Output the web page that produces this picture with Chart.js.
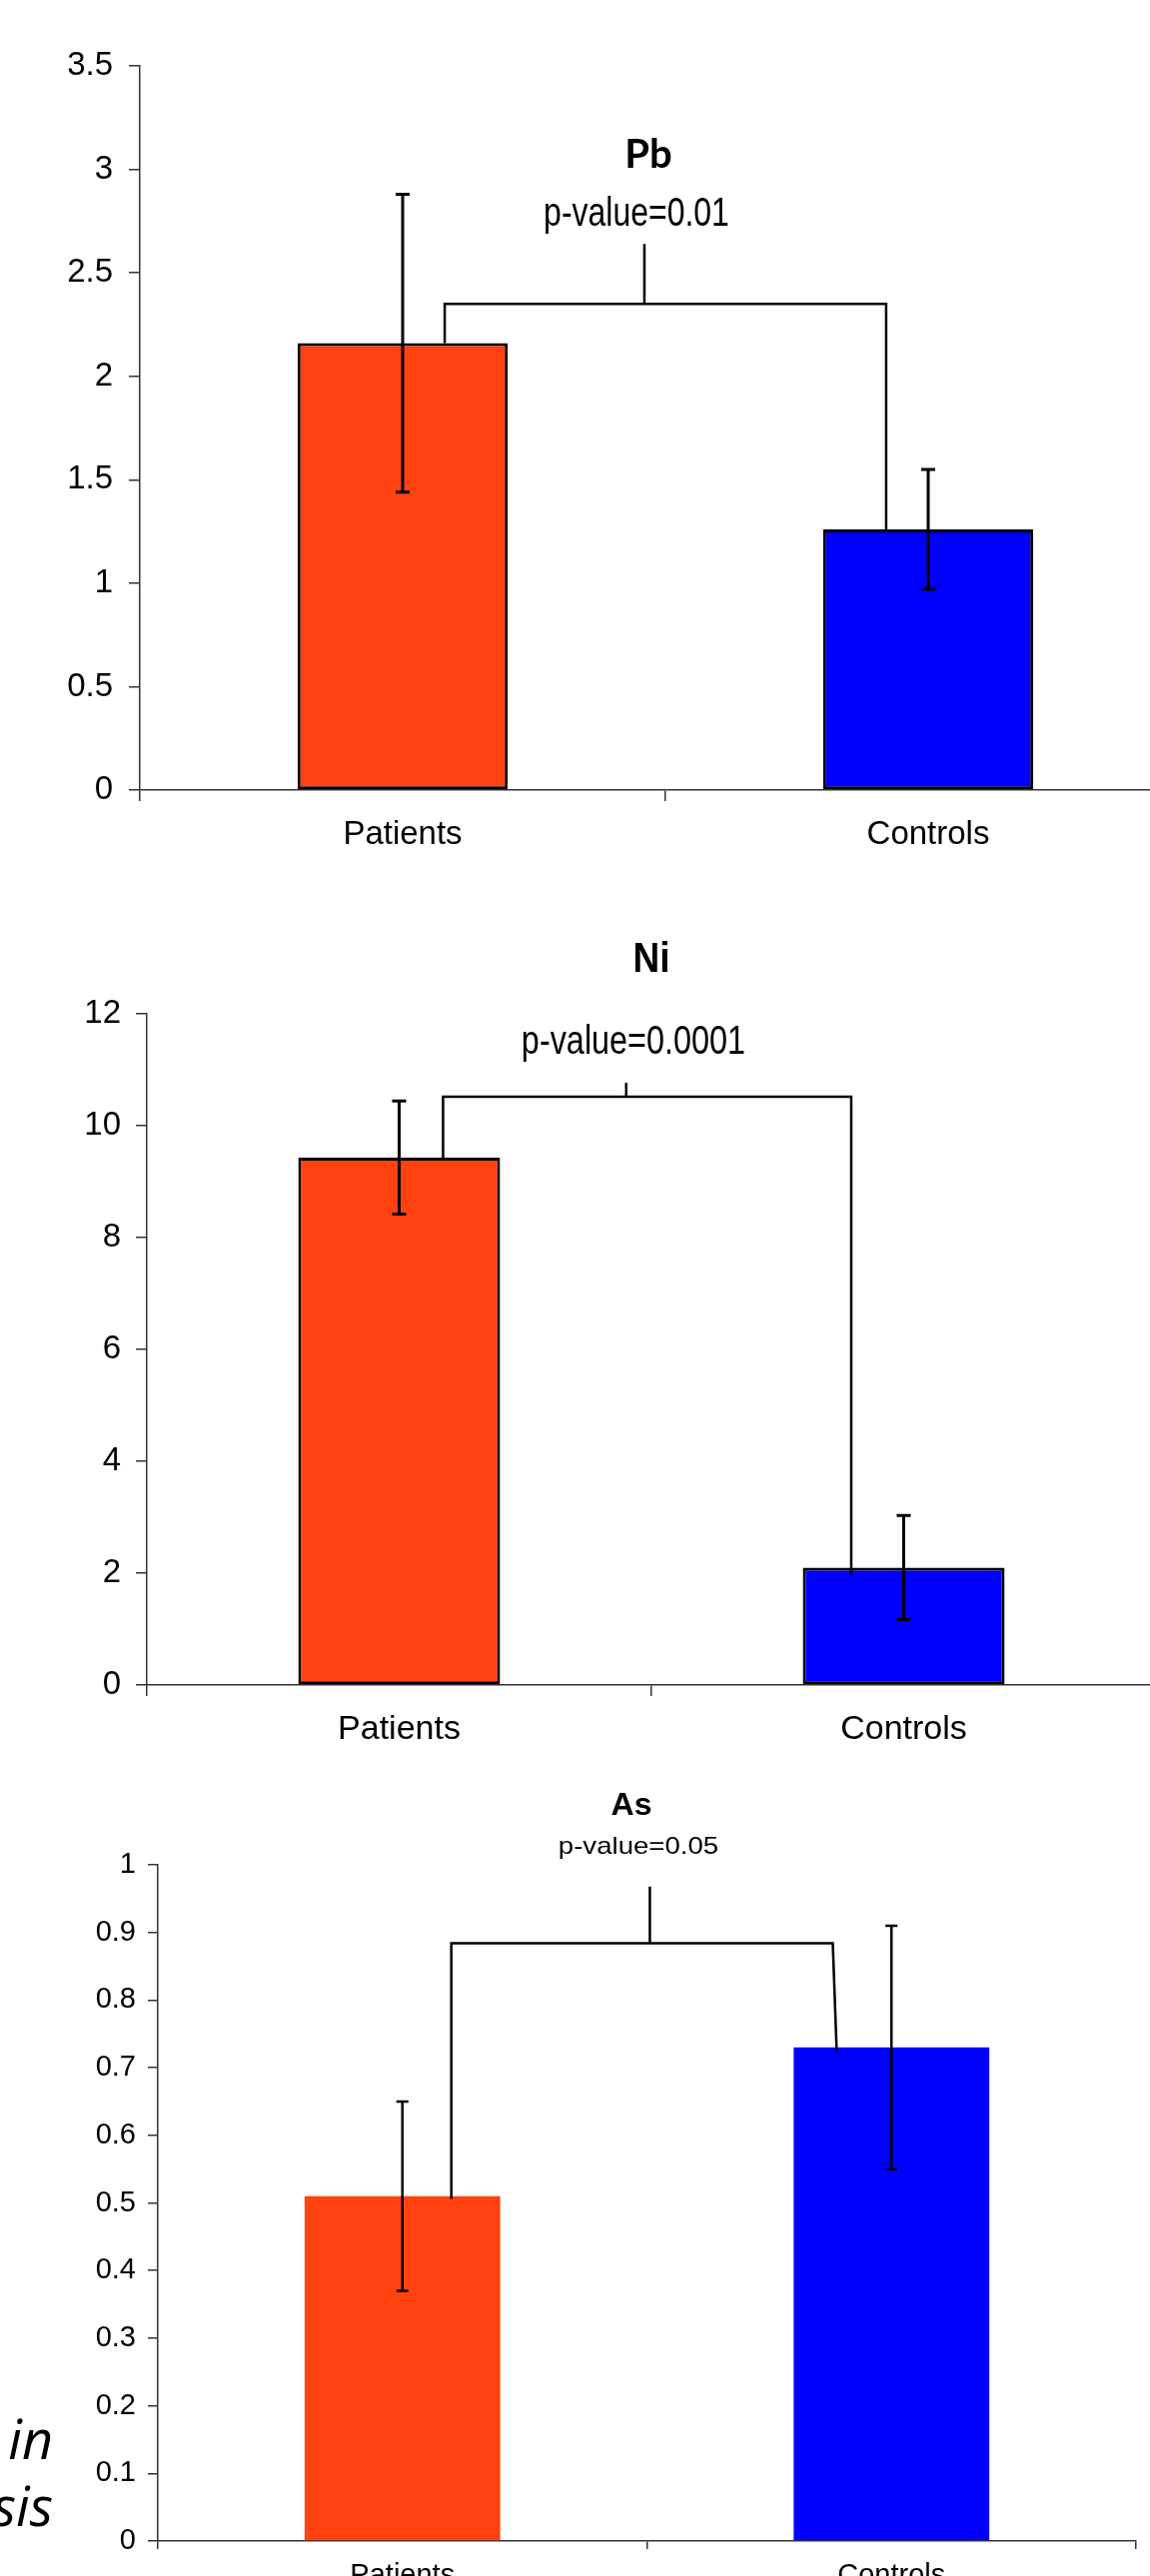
<!DOCTYPE html>
<html>
<head>
<meta charset="utf-8">
<title>Pb, Ni, As – Patients vs Controls</title>
<script src="https://cdn.jsdelivr.net/npm/chart.js@4.4.1/dist/chart.umd.min.js"></script>
<style>
  html, body { margin: 0; padding: 0; background: #fff; }
  body { position: relative; width: 1151px; height: 2579px; overflow: hidden; }
  canvas { position: absolute; left: 0; }
  #pb-chart { top: 0; }
  #ni-chart { top: 880px; }
  #as-chart { top: 1770px; }
  .side-note {
    position: absolute;
    left: -100px;
    top: 2408px;
    width: 153px;
    text-align: right;
    font: italic 54px/67px "Open Sans", "Noto Sans", sans-serif;
    color: #000;
  }
</style>
</head>
<body>
<canvas id="pb-chart" width="1200" height="880"></canvas>
<canvas id="ni-chart" width="1200" height="890"></canvas>
<canvas id="as-chart" width="1200" height="809"></canvas>
<div class="side-note">in<br>sis</div>

<script>
const CATEGORIES = ['Patients', 'Controls'];
const BAR_COLORS = ['#ff4210', '#0000ff'];

// Pb
const PB_MEANS = [2.16, 1.26];
const PB_ERRORS = [0.72, 0.29];
const PB_TICKS = [0, 0.5, 1, 1.5, 2, 2.5, 3, 3.5];
// level, stem top, left foot, right foot
const PB_BRACKET = [2.35, 2.64, 2.16, 1.25];

// Ni
const NI_MEANS = [9.43, 2.1];
const NI_ERRORS = [1.01, 0.93];
const NI_TICKS = [0, 2, 4, 6, 8, 10, 12];
const NI_BRACKET = [10.52, 10.77, 9.43, 1.96];

// As
const AS_MEANS = [0.51, 0.73];
const AS_ERRORS = [0.14, 0.18];
const AS_TICKS = [0, 0.1, 0.2, 0.3, 0.4, 0.5, 0.6, 0.7, 0.8, 0.9, 1];
const AS_BRACKET = [0.884, 0.968, 0.506, 0.724];

const TITLES = ['Pb', 'Ni', 'As'];
const P_VALUES = ['p-value=0.01', 'p-value=0.0001', 'p-value=0.05'];

const AXIS_COLOR = '#333';
const SANS = '"Liberation Sans", Arial, sans-serif';

Chart.defaults.font.family = SANS;
Chart.defaults.color = '#000';

// error bars, significance bracket and the headings, drawn on top of the bars
function overlay(cfg) {
  return {
    id: 'overlay-' + cfg.key,
    afterDatasetsDraw(chart) {
      const { ctx, scales: { x, y } } = chart;
      ctx.save();
      ctx.strokeStyle = '#000';
      ctx.fillStyle = '#000';

      ctx.lineWidth = cfg.errWidth;
      cfg.means.forEach((m, i) => {
        const px = x.getPixelForValue(i);
        const top = y.getPixelForValue(m + cfg.errors[i]);
        const bot = y.getPixelForValue(m - cfg.errors[i]);
        ctx.beginPath();
        ctx.moveTo(px, top);
        ctx.lineTo(px, bot);
        ctx.moveTo(px - cfg.cap, top);
        ctx.lineTo(px + cfg.cap, top);
        ctx.moveTo(px - cfg.cap, bot);
        ctx.lineTo(px + cfg.cap, bot);
        ctx.stroke();
      });

      const [level, stemTop, leftFoot, rightFoot] = cfg.bracket;
      const at = cfg.bracketAt;
      ctx.lineWidth = 2.5;
      ctx.beginPath();
      ctx.moveTo(x.getPixelForValue(at.left), y.getPixelForValue(leftFoot));
      ctx.lineTo(x.getPixelForValue(at.left), y.getPixelForValue(level));
      ctx.lineTo(x.getPixelForValue(at.rightTop), y.getPixelForValue(level));
      ctx.lineTo(x.getPixelForValue(at.rightBottom), y.getPixelForValue(rightFoot));
      ctx.moveTo(x.getPixelForValue(at.stem), y.getPixelForValue(level));
      ctx.lineTo(x.getPixelForValue(at.stem), y.getPixelForValue(stemTop));
      ctx.stroke();

      ctx.textAlign = 'center';
      ctx.textBaseline = 'alphabetic';
      cfg.headings.forEach((h) => {
        ctx.save();
        ctx.font = h.font;
        ctx.translate(h.x, h.y);
        ctx.scale(h.sx, 1);
        ctx.fillText(h.text, 0, 0);
        ctx.restore();
      });
      ctx.restore();
    },
  };
}

function buildChart(cfg) {
  const canvas = document.getElementById(cfg.canvas);
  const W = canvas.width;
  const H = canvas.height;
  const a = cfg.area;

  return new Chart(canvas, {
    type: 'bar',
    data: {
      labels: CATEGORIES,
      datasets: [{
        data: cfg.means,
        backgroundColor: BAR_COLORS,
        borderColor: '#000',
        borderWidth: cfg.barBorder,
        borderSkipped: false,
        barPercentage: 0.4,
        categoryPercentage: 1,
      }],
    },
    options: {
      responsive: false,
      animation: false,
      events: [],
      layout: { padding: { top: a.top, right: W - a.right, left: 0, bottom: 0 } },
      plugins: {
        legend: { display: false },
        tooltip: { enabled: false },
      },
      scales: {
        x: {
          offset: true,
          grid: {
            offset: true,
            drawOnChartArea: false,
            tickLength: cfg.xTickLen,
            color: AXIS_COLOR,
            lineWidth: 1.5,
          },
          border: { color: AXIS_COLOR, width: 1.5 },
          ticks: { font: { size: cfg.xFont }, padding: cfg.xPad, maxRotation: 0 },
          afterFit: (s) => { s.height = H - a.bottom; },
        },
        y: {
          min: cfg.ticks[0],
          max: cfg.ticks[cfg.ticks.length - 1],
          afterBuildTicks: (s) => { s.ticks = cfg.ticks.map((v) => ({ value: v })); },
          grid: {
            drawOnChartArea: false,
            tickLength: cfg.yTickLen,
            color: AXIS_COLOR,
            lineWidth: 1.5,
          },
          border: { color: AXIS_COLOR, width: 1.5 },
          ticks: {
            font: { size: cfg.yFont },
            padding: cfg.yPad,
            callback: (value) => `${value}`,
          },
          afterFit: (s) => { s.width = a.left; },
        },
      },
    },
    plugins: [overlay(cfg)],
  });
}

buildChart({
  key: 'pb',
  canvas: 'pb-chart',
  area: { left: 140, right: 1192, top: 66, bottom: 791 },
  means: PB_MEANS,
  errors: PB_ERRORS,
  ticks: PB_TICKS,
  bracket: PB_BRACKET,
  bracketAt: { left: 0.08, rightTop: 0.92, rightBottom: 0.92, stem: 0.46 },
  barBorder: 3,
  errWidth: 3,
  cap: 7,
  xFont: 33, xPad: 14, xTickLen: 11,
  yFont: 33, yPad: 16, yTickLen: 11,
  headings: [
    { text: TITLES[0], x: 649, y: 168, font: 'bold 40px Lato, "Open Sans", sans-serif', sx: 1 },
    { text: P_VALUES[0], x: 637, y: 226, font: '41px ' + SANS, sx: 0.78 },
  ],
});

buildChart({
  key: 'ni',
  canvas: 'ni-chart',
  area: { left: 147, right: 1157, top: 135, bottom: 807 },
  means: NI_MEANS,
  errors: NI_ERRORS,
  ticks: NI_TICKS,
  bracket: NI_BRACKET,
  bracketAt: { left: 0.087, rightTop: 0.896, rightBottom: 0.896, stem: 0.45 },
  barBorder: 3,
  errWidth: 3,
  cap: 7,
  xFont: 34, xPad: 13, xTickLen: 11,
  yFont: 33, yPad: 15, yTickLen: 11,
  headings: [
    { text: TITLES[1], x: 652, y: 93, font: 'bold 43px ' + SANS, sx: 0.86 },
    { text: P_VALUES[1], x: 634, y: 175, font: '40px ' + SANS, sx: 0.81 },
  ],
});

buildChart({
  key: 'as',
  canvas: 'as-chart',
  area: { left: 158, right: 1137, top: 97, bottom: 774 },
  means: AS_MEANS,
  errors: AS_ERRORS,
  ticks: AS_TICKS,
  bracket: AS_BRACKET,
  bracketAt: { left: 0.1, rightTop: 0.88, rightBottom: 0.888, stem: 0.506 },
  barBorder: 0,
  errWidth: 2.5,
  cap: 6,
  xFont: 29, xPad: 10, xTickLen: 8,
  yFont: 29, yPad: 12, yTickLen: 10,
  headings: [
    { text: TITLES[2], x: 632, y: 47, font: 'bold 32px ' + SANS, sx: 1 },
    { text: P_VALUES[2], x: 639, y: 86, font: '24px ' + SANS, sx: 1.15 },
  ],
});
</script>
</body>
</html>
